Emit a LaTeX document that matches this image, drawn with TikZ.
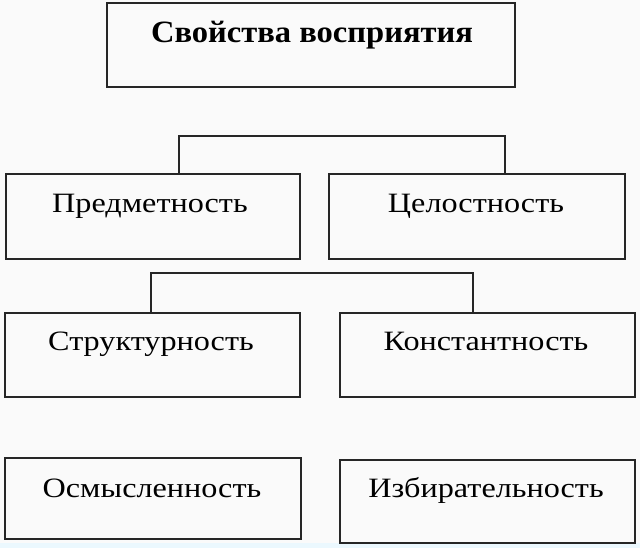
\documentclass[tikz,border=0pt]{standalone}
\usepackage{fontspec}
\setmainfont{Liberation Serif}
\newfontfamily\boxfont[FakeStretch=1.15]{Liberation Serif}
\newfontfamily\titlefont[FakeStretch=1.05]{Liberation Serif}
\begin{document}
\begin{tikzpicture}[x=1pt,y=-1pt,
  box/.style={draw=black!85, line width=1.5pt, inner sep=0pt, minimum width=#1, minimum height=84pt},
  box/.default=295pt,
  lbl/.style={anchor=base, inner sep=0pt, font=\boxfont\fontsize{28}{30}\selectfont},
  ttl/.style={anchor=base, inner sep=0pt, font=\titlefont\bfseries\fontsize{31}{33}\selectfont},
  link/.style={draw=black!85, line width=1.5pt}]
\useasboundingbox[fill=black!2] (0,0) rectangle (640,548);
\fill[cyan!8] (0,543) rectangle (640,548);
% boxes
\node[box=408pt] (top) at (311,45) {};
\node[box=294pt, minimum height=85pt] (p) at (153,216.5) {};
\node[box=296pt, minimum height=85pt] (c) at (477,216.5) {};
\node[box] (s) at (152.5,355) {};
\node[box] (k) at (487.5,355) {};
\node[box=296pt, minimum height=81pt] (o) at (153,498.5) {};
\node[box, minimum height=83pt] (i) at (487.5,501.5) {};
% texts
\node[ttl] (ttop) at (312,43) {Свойства восприятия};
\node[lbl] (tp) at (150,213) {Предметность};
\node[lbl] (tc) at (476,213) {Целостность};
\node[lbl] (ts) at (151,350) {Структурность};
\node[lbl] (tk) at (486,350) {Константность};
\node[lbl] (to) at (152,497) {Осмысленность};
\node[lbl] (ti) at (486,497) {Избирательность};
% brackets
\coordinate (b1l) at (179,136);
\coordinate (b1r) at (505,136);
\draw[link] (p.north -| b1l) -- (b1l) -- (b1r) -- (c.north -| b1r);
\coordinate (b2l) at (151,273);
\coordinate (b2r) at (473,273);
\draw[link] (s.north -| b2l) -- (b2l) -- (b2r) -- (k.north -| b2r);
\end{tikzpicture}
\end{document}
